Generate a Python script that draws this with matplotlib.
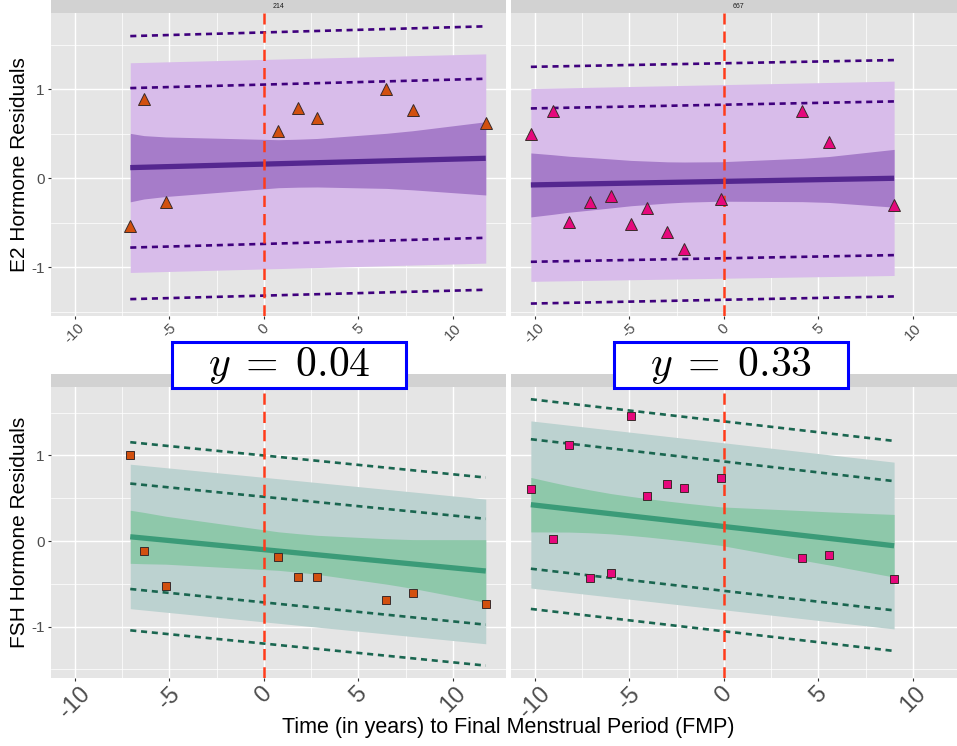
import numpy as np
import matplotlib
matplotlib.use('Agg')
import matplotlib.pyplot as plt
from matplotlib.patches import Rectangle

plt.rcParams['font.family'] = ['Liberation Sans', 'DejaVu Sans']
plt.rcParams['mathtext.fontset'] = 'cm'
plt.rcParams['axes.unicode_minus'] = False

# ---- subject 214 ----
x214 = [-7.06, -6.34, -5.18, 0.77, 1.83, 2.83, 6.48, 7.87, 11.73]
e2_214 = [-0.54, 0.89, -0.27, 0.53, 0.79, 0.68, 1.01, 0.77, 0.62]
fsh_214 = [1.01, -0.12, -0.52, -0.19, -0.42, -0.42, -0.69, -0.61, -0.73]

e2_214_fit = [0.12, 0.225]
e2_214_ci_hi = [0.505, 0.48, 0.465, 0.434, 0.44, 0.448, 0.506, 0.535, 0.636]
e2_214_ci_lo = [-0.265, -0.233, -0.205, -0.106, -0.10, -0.098, -0.114, -0.13, -0.188]
e2_214_pi_hi = [1.30, 1.40]
e2_214_pi_lo = [-1.06, -0.955]
e2_214_dash = [[1.60, 1.71], [1.015, 1.12], [-0.78, -0.67], [-1.36, -1.255]]

fsh_214_fit = [0.05, -0.35]
fsh_214_ci_hi = [0.36, 0.335, 0.29, 0.108, 0.086, 0.067, 0.027, 0.017, 0.016]
fsh_214_ci_lo = [-0.26, -0.265, -0.27, -0.342, -0.364, -0.389, -0.503, -0.553, -0.716]
fsh_214_pi_hi = [0.898, 0.49]
fsh_214_pi_lo = [-0.79, -1.2]
fsh_214_dash = [[1.155, 0.742], [0.672, 0.26], [-0.56, -0.977], [-1.043, -1.455]]

# ---- subject 667 ----
x667 = [-10.2, -9.05, -8.19, -7.06, -5.95, -4.9, -4.07, -2.98, -2.1, -0.14, 4.15, 5.56, 9.0]
e2_667 = [0.50, 0.76, -0.495, -0.263, -0.195, -0.51, -0.337, -0.60, -0.80, -0.229, 0.76, 0.404, -0.297]
fsh_667 = [0.61, 0.027, 1.127, -0.432, -0.378, 1.466, 0.532, 0.669, 0.622, 0.731, -0.195, -0.164, -0.44]

e2_667_fit = [-0.075, 0.0]
e2_667_ci_hi = [0.285, 0.265, 0.248, 0.233, 0.217, 0.201, 0.194, 0.185, 0.183, 0.186, 0.225, 0.245, 0.325]
e2_667_ci_lo = [-0.435, -0.406, -0.382, -0.358, -0.333, -0.309, -0.296, -0.279, -0.269, -0.258, -0.263, -0.272, -0.325]
e2_667_pi_hi = [1.01, 1.093]
e2_667_pi_lo = [-1.16, -1.094]
e2_667_dash = [[1.254, 1.33], [0.786, 0.865], [-0.94, -0.865], [-1.41, -1.33]]

fsh_667_fit = [0.425, -0.055]
fsh_667_ci_hi = [0.743, 0.686, 0.645, 0.597, 0.554, 0.521, 0.496, 0.467, 0.445, 0.399, 0.356, 0.341, 0.311]
fsh_667_ci_lo = [0.107, 0.106, 0.105, 0.097, 0.084, 0.065, 0.048, 0.023, 0.001, -0.051, -0.224, -0.279, -0.421]
fsh_667_pi_hi = [1.404, 0.922]
fsh_667_pi_lo = [-0.549, -1.027]
fsh_667_dash = [[1.657, 1.17], [1.19, 0.70], [-0.323, -0.81], [-0.793, -1.284]]

xticks = [-10, -5, 0, 5, 10]
yticks = [-1, 0, 1]
y_vals = ['0.04', '0.33']
strip_labels = ['214', '667']

purple = dict(pi='#D8BCEA', ci='#A67CC9', fit='#54278F', dash='#3F007D')
green = dict(pi='#BCD2D0', ci='#8EC8AA', fit='#3B9B78', dash='#1A6650')
col214 = '#D2500F'
col667 = '#E6087C'

W, H = 957, 746
fig = plt.figure(figsize=(W / 100, H / 100), dpi=100)


def fr(x0, y0, x1, y1):
    return [x0 / W, 1 - y1 / H, (x1 - x0) / W, (y1 - y0) / H]


def panel(rect, xs, pts, fit, ci_hi, ci_lo, pi_hi, pi_lo, dash, pal, col, marker, ms,
          ylim, xlab_size, left):
    ax = fig.add_axes(rect)
    ax.set_facecolor('#E5E5E5')
    for s in ax.spines.values():
        s.set_visible(False)
    ends = [xs[0], xs[-1]]
    ax.fill_between(ends, pi_lo, pi_hi, color=pal['pi'], lw=0, zorder=2)
    ax.fill_between(xs, ci_lo, ci_hi, color=pal['ci'], lw=0, zorder=3)
    for d in dash:
        ax.plot(ends, d, color=pal['dash'], lw=1.9, ls=(0, (2.3, 1.8)), zorder=4)
    ax.plot(ends, fit, color=pal['fit'], lw=3.8, solid_capstyle='butt', zorder=5)
    ax.axvline(0, color='#FF3B1A', lw=1.8, ls=(0, (4.5, 2.8)), zorder=6)
    ax.plot(xs, pts, ls='none', marker=marker, ms=ms, mfc=col, mec='#3A2A2A', mew=0.7, zorder=7)
    ax.set_xlim(-11.25, 12.8)
    ax.set_ylim(*ylim)
    ax.set_xticks(xticks)
    ax.set_xticks([-7.5, -2.5, 2.5, 7.5], minor=True)
    ax.set_yticks(yticks)
    ax.set_yticks([-1.5, -0.5, 0.5, 1.5], minor=True)
    ax.grid(which='major', color='white', lw=1.0)
    ax.grid(which='minor', color='white', lw=0.5)
    ax.set_axisbelow(True)
    ax.tick_params(which='minor', length=0)
    ax.tick_params(axis='x', length=2.5, color='#333333', labelcolor='#4D4D4D',
                   labelsize=xlab_size, labelrotation=45, pad=1)
    ax.set_xticklabels([str(t) for t in xticks], ha='center')
    if left:
        ax.tick_params(axis='y', length=2.5, color='#333333', labelcolor='#4D4D4D', labelsize=11, pad=2)
    else:
        ax.tick_params(axis='y', length=0, labelleft=False)
    return ax


def strip(x0, y0, x1, y1, label):
    sa = fig.add_axes(fr(x0, y0, x1, y1))
    sa.set_facecolor('#D2D2D2')
    sa.set_xticks([])
    sa.set_yticks([])
    for s in sa.spines.values():
        s.set_visible(False)
    if label:
        sa.text(0.5, 0.5, label, ha='center', va='center', fontsize=5, color='#1A1A1A',
                transform=sa.transAxes)


top_ylim = (-1.55, 1.86)
bot_ylim = (-1.6, 1.8)

panel(fr(51, 13, 506, 316), x214, e2_214, e2_214_fit, e2_214_ci_hi, e2_214_ci_lo,
      e2_214_pi_hi, e2_214_pi_lo, e2_214_dash, purple, col214, '^', 8.5, top_ylim, 11, True)
panel(fr(511, 13, 966, 316), x667, e2_667, e2_667_fit, e2_667_ci_hi, e2_667_ci_lo,
      e2_667_pi_hi, e2_667_pi_lo, e2_667_dash, purple, col667, '^', 8.5, top_ylim, 11, False)
panel(fr(51, 387, 506, 678), x214, fsh_214, fsh_214_fit, fsh_214_ci_hi, fsh_214_ci_lo,
      fsh_214_pi_hi, fsh_214_pi_lo, fsh_214_dash, green, col214, 's', 5.5, bot_ylim, 17, True)
panel(fr(511, 387, 966, 678), x667, fsh_667, fsh_667_fit, fsh_667_ci_hi, fsh_667_ci_lo,
      fsh_667_pi_hi, fsh_667_pi_lo, fsh_667_dash, green, col667, 's', 5.5, bot_ylim, 17, False)

strip(51, 0, 506, 13, strip_labels[0])
strip(511, 0, 966, 13, strip_labels[1])
strip(51, 374, 506, 387, '')
strip(511, 374, 966, 387, '')

fig.text(20 / W, 1 - 165 / H, 'E2 Hormone Residuals', rotation=90, ha='center', va='center', fontsize=15)
fig.text(20 / W, 1 - 532 / H, 'FSH Hormone Residuals', rotation=90, ha='center', va='center', fontsize=15)
fig.text(508 / W, 1 - 727 / H, 'Time (in years) to Final Menstrual Period (FMP)',
         ha='center', va='center', fontsize=15.5)

# boxed slope labels
for (bx0, bx1), lab in zip([(172, 405.7), (614, 848)], y_vals):
    fig.patches.append(Rectangle((bx0 / W, 1 - 388 / H), (bx1 - bx0) / W, 46 / H,
                                 transform=fig.transFigure, facecolor='white',
                                 edgecolor='#0000FF', lw=2.2, zorder=10))
    fig.text((bx0 + bx1) / 2 / W, 1 - 366 / H, r'$y\;=\;' + lab + '$', ha='center', va='center',
             fontsize=30, zorder=11)

fig.savefig('out.png', dpi=100)
